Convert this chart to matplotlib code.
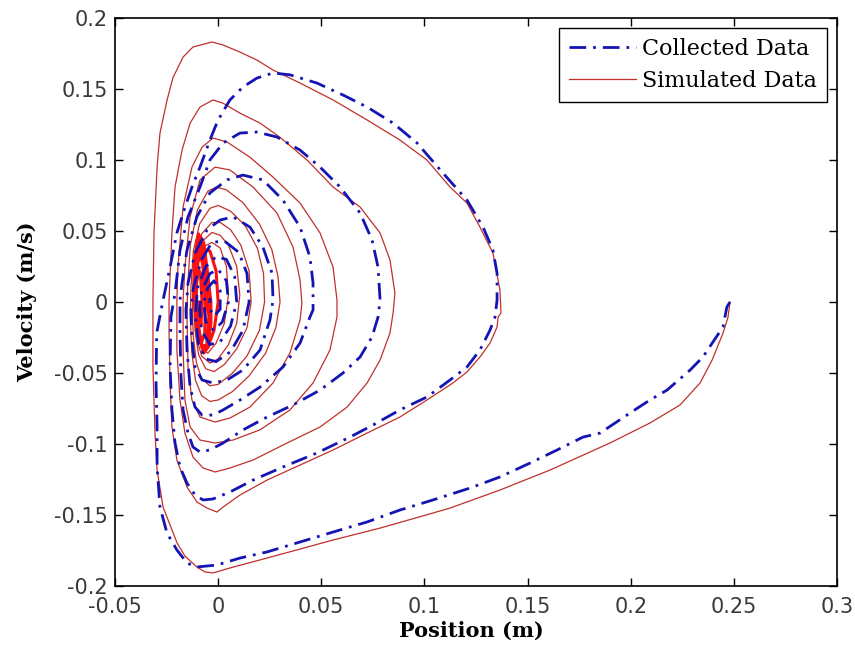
import matplotlib
matplotlib.use('Agg')
import matplotlib.pyplot as plt

# Phase-plane trajectories, position (m) vs velocity (m/s)

# Collected data: one spiral, written loop by loop as (x, y) points
col_loop1 = [
    (0.2481, 0.0), (0.2466, -0.0035), (0.2447, -0.0176), (0.2350, -0.0387),
    (0.2287, -0.0480), (0.2176, -0.0620), (0.2093, -0.0690), (0.1996, -0.0782),
    (0.1851, -0.0923), (0.1769, -0.0951), (0.1643, -0.1042), (0.1512, -0.1134),
    (0.1366, -0.1232), (0.1221, -0.1310), (0.1041, -0.1394), (0.0881, -0.1465),
    (0.0722, -0.1549), (0.0557, -0.1620), (0.0397, -0.1690), (0.0237, -0.1760),
    (0.0106, -0.1803), (-0.0006, -0.1852), (-0.0103, -0.1866), (-0.0151, -0.1838),
    (-0.0200, -0.1746), (-0.0248, -0.1627), (-0.0282, -0.1444), (-0.0296, -0.1162),
    (-0.0296, -0.0880), (-0.0301, -0.0570), (-0.0298, -0.0218), (-0.0267, 0.0014),
    (-0.0233, 0.0246), (-0.0200, 0.0486), (-0.0170, 0.0627), (-0.0127, 0.0810),
    (-0.0088, 0.0950), (-0.0040, 0.1140), (-0.0001, 0.1280), (0.0057, 0.1423),
    (0.0120, 0.1514), (0.0188, 0.1577), (0.0266, 0.1613), (0.0348, 0.1600),
    (0.0479, 0.1542), (0.0605, 0.1458), (0.0722, 0.1373), (0.0848, 0.1260),
    (0.0964, 0.1120), (0.1090, 0.0908), (0.1206, 0.0718), (0.1284, 0.0528),
    (0.1332, 0.0366), (0.1352, 0.0204), (0.1352, 0.0014), (0.1342, -0.0106),
    (0.1318, -0.0197), (0.1269, -0.0338), (0.1206, -0.0458), (0.1124, -0.0549),
    (0.1012, -0.0669), (0.0881, -0.0760), (0.0751, -0.0866), (0.0639, -0.0951),
    (0.0479, -0.1063), (0.0314, -0.1162), (0.0169, -0.1254), (0.0057, -0.1338),
    (-0.0025, -0.1387), (-0.0073, -0.1394), (-0.0112, -0.1359), (-0.0151, -0.1275),
    (-0.0185, -0.1162), (-0.0209, -0.0993), (-0.0224, -0.0760), (-0.0233, -0.0458),
    (-0.0229, -0.0106),
]
col_loop2 = [
    (-0.0209, 0.0063), (-0.0185, 0.0366), (-0.0146, 0.0600), (-0.0088, 0.0810),
    (-0.0040, 0.1000), (0.0024, 0.1120), (0.0106, 0.1190), (0.0188, 0.1197),
    (0.0285, 0.1162), (0.0397, 0.1070), (0.0494, 0.0950), (0.0591, 0.0810),
    (0.0688, 0.0627), (0.0746, 0.0437), (0.0775, 0.0246), (0.0785, 0.0014),
    (0.0775, -0.0106), (0.0746, -0.0246), (0.0688, -0.0387), (0.0605, -0.0500),
    (0.0494, -0.0620), (0.0363, -0.0725), (0.0237, -0.0810), (0.0120, -0.0901),
    (0.0024, -0.0993), (-0.0040, -0.1042), (-0.0088, -0.1056), (-0.0122, -0.1021),
    (-0.0146, -0.0923), (-0.0170, -0.0760), (-0.0180, -0.0528), (-0.0185, -0.0218),
    (-0.0185, 0.0014),
]
col_loop3 = [
    (-0.0175, 0.0134), (-0.0151, 0.0366), (-0.0103, 0.0600), (-0.0040, 0.0768),
    (0.0043, 0.0860), (0.0120, 0.0894), (0.0217, 0.0860), (0.0314, 0.0718),
    (0.0397, 0.0528), (0.0445, 0.0317), (0.0460, 0.0134), (0.0460, -0.0056),
    (0.0445, -0.0106), (0.0397, -0.0289), (0.0314, -0.0458), (0.0203, -0.0599),
    (0.0106, -0.0690), (0.0024, -0.0760), (-0.0025, -0.0796), (-0.0078, -0.0796),
    (-0.0112, -0.0740), (-0.0136, -0.0599), (-0.0151, -0.0338), (-0.0156, -0.0056),
]
col_loop4 = [
    (-0.0146, 0.0134), (-0.0112, 0.0345), (-0.0054, 0.0507), (0.0009, 0.0577),
    (0.0072, 0.0600), (0.0154, 0.0528), (0.0217, 0.0387), (0.0261, 0.0204),
    (0.0266, 0.0014), (0.0251, -0.0127), (0.0203, -0.0338), (0.0120, -0.0479),
    (0.0043, -0.0549), (-0.0025, -0.0570), (-0.0078, -0.0549), (-0.0112, -0.0458),
    (-0.0127, -0.0268), (-0.0132, -0.0056),
]
col_core = [
    (-0.0120, 0.0100), (-0.0080, 0.0300), (-0.0030, 0.0420), (0.0030, 0.0430),
    (0.0100, 0.0350), (0.0140, 0.0200), (0.0150, 0.0000), (0.0120, -0.0200),
    (0.0060, -0.0350), (-0.0010, -0.0420), (-0.0060, -0.0400), (-0.0095, -0.0300),
    (-0.0110, -0.0100), (-0.0100, 0.0100), (-0.0060, 0.0250), (-0.0010, 0.0320),
    (0.0040, 0.0300), (0.0080, 0.0180), (0.0090, 0.0000), (0.0060, -0.0170),
    (0.0010, -0.0280), (-0.0040, -0.0300), (-0.0080, -0.0200), (-0.0090, -0.0050),
    (-0.0080, 0.0080), (-0.0040, 0.0200), (0.0000, 0.0230), (0.0040, 0.0150),
    (0.0050, 0.0000), (0.0020, -0.0140), (-0.0020, -0.0200), (-0.0060, -0.0140),
    (-0.0070, 0.0000), (-0.0050, 0.0100), (-0.0020, 0.0150), (0.0010, 0.0080),
    (0.0010, -0.0050), (-0.0020, -0.0100), (-0.0040, -0.0050), (-0.0040, 0.0030),
]

# Simulated data: same layout, outer loops first
sim_loop1 = [
    (0.2481, 0.0), (0.2471, -0.0110), (0.2447, -0.0220), (0.2394, -0.0410),
    (0.2336, -0.0570), (0.2239, -0.0725), (0.2093, -0.0852), (0.1899, -0.0993),
    (0.1609, -0.1183), (0.1366, -0.1324), (0.1124, -0.1451), (0.1041, -0.1486),
    (0.0785, -0.1592), (0.0557, -0.1676), (0.0237, -0.1803), (0.0057, -0.1873),
    (-0.0025, -0.1908), (-0.0064, -0.1901), (-0.0103, -0.1866), (-0.0161, -0.1789),
    (-0.0199, -0.1697), (-0.0267, -0.1444), (-0.0296, -0.1183), (-0.0306, -0.0923),
    (-0.0316, -0.0458), (-0.0316, 0.0014), (-0.0311, 0.0486), (-0.0296, 0.0950),
    (-0.0282, 0.1190), (-0.0248, 0.1420), (-0.0219, 0.1580), (-0.0170, 0.1725),
    (-0.0122, 0.1796), (-0.0030, 0.1831), (0.0024, 0.1810), (0.0106, 0.1760),
    (0.0188, 0.1704), (0.0266, 0.1634), (0.0397, 0.1542), (0.0557, 0.1423),
    (0.0722, 0.1282), (0.0881, 0.1141), (0.1012, 0.1000), (0.1124, 0.0810),
    (0.1206, 0.0697), (0.1269, 0.0528), (0.1332, 0.0345), (0.1366, 0.0085),
    (0.1371, -0.0077), (0.1357, -0.0106), (0.1352, -0.0176), (0.1318, -0.0289),
    (0.1269, -0.0387), (0.1206, -0.0493), (0.1138, -0.0570), (0.1012, -0.0690),
    (0.0881, -0.0810), (0.0722, -0.0923), (0.0557, -0.1042), (0.0397, -0.1148),
    (0.0237, -0.1254), (0.0106, -0.1359), (0.0024, -0.1444), (-0.0006, -0.1479),
    (-0.0054, -0.1451), (-0.0103, -0.1408), (-0.0151, -0.1303), (-0.0200, -0.1113),
    (-0.0224, -0.0880), (-0.0233, -0.0570), (-0.0238, -0.0218), (-0.0238, 0.0014),
]
sim_loop2 = [
    (-0.0224, 0.0486), (-0.0209, 0.0810), (-0.0175, 0.1070), (-0.0136, 0.1260),
    (-0.0088, 0.1373), (-0.0025, 0.1423), (0.0024, 0.1400), (0.0106, 0.1330),
    (0.0203, 0.1260), (0.0300, 0.1160), (0.0431, 0.1000), (0.0557, 0.0810),
    (0.0688, 0.0669), (0.0785, 0.0486), (0.0833, 0.0296), (0.0857, 0.0063),
    (0.0848, -0.0077), (0.0833, -0.0218), (0.0785, -0.0408), (0.0722, -0.0570),
    (0.0625, -0.0740), (0.0494, -0.0880), (0.0334, -0.0993), (0.0169, -0.1113),
    (0.0057, -0.1169), (-0.0015, -0.1197), (-0.0073, -0.1169), (-0.0122, -0.1092),
    (-0.0161, -0.0923), (-0.0185, -0.0690), (-0.0200, -0.0338), (-0.0200, 0.0014),
]
sim_loop3 = [
    (-0.0195, 0.0246), (-0.0170, 0.0670), (-0.0127, 0.0950), (-0.0078, 0.1090),
    (-0.0025, 0.1155), (0.0043, 0.1127), (0.0154, 0.1020), (0.0266, 0.0880),
    (0.0397, 0.0697), (0.0494, 0.0486), (0.0557, 0.0246), (0.0576, 0.0014),
    (0.0576, -0.0106), (0.0542, -0.0338), (0.0460, -0.0570), (0.0348, -0.0760),
    (0.0203, -0.0900), (0.0072, -0.0972), (-0.0015, -0.0993), (-0.0088, -0.0972),
    (-0.0136, -0.0880), (-0.0161, -0.0690), (-0.0170, -0.0338), (-0.0170, 0.0014),
]
sim_loop4 = [
    (-0.0161, 0.0246), (-0.0136, 0.0600), (-0.0088, 0.0860), (-0.0015, 0.0950),
    (0.0057, 0.0930), (0.0169, 0.0810), (0.0285, 0.0627), (0.0363, 0.0387),
    (0.0397, 0.0155), (0.0406, -0.0010), (0.0397, -0.0127), (0.0348, -0.0359),
    (0.0266, -0.0570), (0.0154, -0.0740), (0.0057, -0.0817), (-0.0015, -0.0845),
    (-0.0088, -0.0810), (-0.0127, -0.0690), (-0.0146, -0.0458), (-0.0151, -0.0106),
]
sim_loop5 = [
    (-0.0148, 0.0100), (-0.0135, 0.0400), (-0.0100, 0.0650), (-0.0050, 0.0780),
    (-0.0010, 0.0810), (0.0040, 0.0790), (0.0120, 0.0700), (0.0200, 0.0550),
    (0.0260, 0.0370), (0.0290, 0.0180), (0.0300, 0.0000), (0.0280, -0.0180),
    (0.0230, -0.0360), (0.0150, -0.0520), (0.0070, -0.0630), (0.0000, -0.0690),
    (-0.0040, -0.0700), (-0.0080, -0.0660), (-0.0110, -0.0550), (-0.0128, -0.0350),
    (-0.0135, -0.0100),
]
sim_loop6 = [
    (-0.0132, 0.0100), (-0.0120, 0.0360), (-0.0090, 0.0550), (-0.0040, 0.0660),
    (0.0000, 0.0680), (0.0060, 0.0640), (0.0130, 0.0540), (0.0190, 0.0380),
    (0.0220, 0.0200), (0.0225, 0.0000), (0.0200, -0.0200), (0.0140, -0.0380),
    (0.0070, -0.0500), (0.0000, -0.0580), (-0.0040, -0.0590), (-0.0080, -0.0540),
    (-0.0105, -0.0430), (-0.0120, -0.0250), (-0.0125, -0.0080),
]
sim_loop7 = [
    (-0.0123, 0.0100), (-0.0112, 0.0320), (-0.0080, 0.0480), (-0.0030, 0.0560),
    (0.0010, 0.0560), (0.0060, 0.0510), (0.0110, 0.0400), (0.0150, 0.0220),
    (0.0160, 0.0000), (0.0140, -0.0180), (0.0090, -0.0330), (0.0030, -0.0440),
    (-0.0020, -0.0490), (-0.0060, -0.0470), (-0.0095, -0.0370), (-0.0112, -0.0200),
    (-0.0118, -0.0050),
]
sim_loop8 = [
    (-0.0117, 0.0100), (-0.0105, 0.0300), (-0.0075, 0.0430), (-0.0030, 0.0490),
    (0.0010, 0.0470), (0.0050, 0.0400), (0.0090, 0.0250), (0.0105, 0.0050),
    (0.0090, -0.0150), (0.0050, -0.0300), (0.0000, -0.0400), (-0.0040, -0.0430),
    (-0.0080, -0.0380), (-0.0105, -0.0250), (-0.0113, -0.0080),
    (-0.0112, 0.0100), (-0.0100, 0.0280), (-0.0070, 0.0390), (-0.0030, 0.0420),
    (0.0010, 0.0380), (0.0040, 0.0250), (0.0050, 0.0050), (0.0030, -0.0150),
    (-0.0010, -0.0290), (-0.0050, -0.0360), (-0.0080, -0.0330), (-0.0102, -0.0200),
    (-0.0110, -0.0050),
]
# settling part near rest, drawn brighter
sim_core = [
    (-0.0110, -0.0050), (-0.0108, 0.0100), (-0.0098, 0.0280), (-0.0070, 0.0370),
    (-0.0040, 0.0360), (-0.0010, 0.0220), (0.0000, 0.0000), (-0.0020, -0.0200),
    (-0.0050, -0.0320), (-0.0080, -0.0300), (-0.0103, -0.0150), (-0.0106, 0.0050),
    (-0.0100, 0.0300), (-0.0085, 0.0460), (-0.0070, 0.0420), (-0.0055, 0.0250),
    (-0.0035, 0.0000), (-0.0035, -0.0150), (-0.0050, -0.0320), (-0.0070, -0.0360),
    (-0.0100, -0.0200), (-0.0118, 0.0080), (-0.0115, 0.0300), (-0.0095, 0.0480),
    (-0.0080, 0.0400), (-0.0060, 0.0150), (-0.0045, -0.0100), (-0.0055, -0.0300),
    (-0.0075, -0.0330), (-0.0100, -0.0180), (-0.0112, 0.0100), (-0.0104, 0.0300),
    (-0.0090, 0.0380), (-0.0074, 0.0250), (-0.0062, 0.0000), (-0.0065, -0.0220),
    (-0.0082, -0.0290), (-0.0100, -0.0120), (-0.0108, 0.0100), (-0.0098, 0.0240),
    (-0.0086, 0.0200), (-0.0078, 0.0000), (-0.0083, -0.0160), (-0.0094, -0.0100),
    (-0.0092, 0.0000),
]

col_loops = [col_loop1, col_loop2, col_loop3, col_loop4, col_core]
sim_loops = [sim_loop1, sim_loop2, sim_loop3, sim_loop4, sim_loop5,
             sim_loop6, sim_loop7, sim_loop8]

x_ticks = [-0.05, 0, 0.05, 0.1, 0.15, 0.2, 0.25, 0.3]
y_ticks = [-0.2, -0.15, -0.1, -0.05, 0, 0.05, 0.1, 0.15, 0.2]
x_tick_labels = ['-0.05', '0', '0.05', '0.1', '0.15', '0.2', '0.25', '0.3']
y_tick_labels = ['-0.2', '-0.15', '-0.1', '-0.05', '0', '0.05', '0.1', '0.15', '0.2']


def unzip(loops):
    pts = [p for loop in loops for p in loop]
    return [p[0] for p in pts], [p[1] for p in pts]


col_x, col_y = unzip(col_loops)
sim_x, sim_y = unzip(sim_loops)
core_x, core_y = unzip([sim_core])

fig = plt.figure(figsize=(8.55, 6.58), dpi=100)
ax = fig.add_axes([0.1345, 0.1094, 0.8445, 0.8632])

BLUE = '#1414b4'
RED = '#c0302a'

ax.plot(col_x, col_y, color=BLUE, linewidth=2.0, linestyle=(0, (6, 2.5, 1, 2.5)),
        label='Collected Data', zorder=3)
ax.plot(sim_x, sim_y, color=RED, linewidth=0.9, label='Simulated Data', zorder=2)
ax.plot(core_x, core_y, color='#ff1010', linewidth=2.2, zorder=2)

ax.set_xlim(-0.05, 0.3)
ax.set_ylim(-0.2, 0.2)
ax.set_xticks(x_ticks)
ax.set_yticks(y_ticks)
ax.set_xticklabels(x_tick_labels)
ax.set_yticklabels(y_tick_labels)
ax.tick_params(direction='in', length=6, width=1, top=True, right=True,
               labelsize=15, labelcolor='#3a3a3a')
ax.tick_params(axis='x', pad=8)
ax.tick_params(axis='y', pad=5)
for sp in ax.spines.values():
    sp.set_linewidth(1.2)

label_font = dict(family='DejaVu Serif', fontsize=15, fontweight='bold')
ax.set_xlabel('Position (m)', **label_font)
ax.set_ylabel('Velocity (m/s)', **label_font)
ax.xaxis.set_label_coords(0.494, -0.062)
ax.yaxis.set_label_coords(-0.108, 0.5)

leg = ax.legend(loc='upper right', prop={'family': 'DejaVu Serif', 'size': 16},
                fancybox=False, edgecolor='black', framealpha=1,
                handlelength=3.0, handletextpad=0.3, labelspacing=0.45,
                borderpad=0.45, borderaxespad=0.45)
leg.get_frame().set_linewidth(1.0)

fig.savefig('out.png', dpi=100, facecolor='white')
